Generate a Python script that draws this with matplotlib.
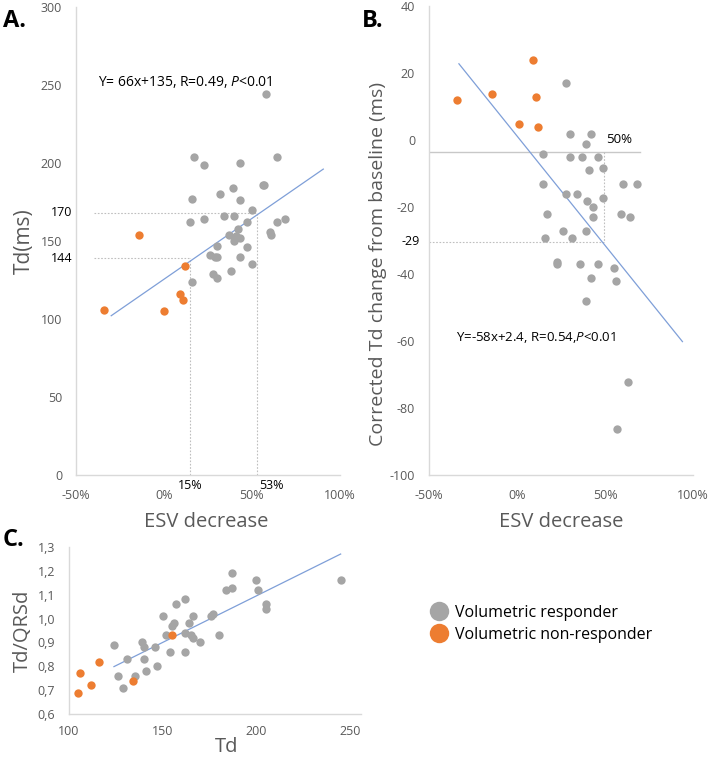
#!/usr/bin/env python3
"""Td vs ESV decrease scatter panels (A, B, C) in an Excel-like style."""

import numpy as np
import matplotlib

matplotlib.use("Agg")
import matplotlib.pyplot as plt
from matplotlib.lines import Line2D
from matplotlib.ticker import FuncFormatter

plt.rcParams["font.family"] = ["Open Sans", "DejaVu Sans"]
plt.rcParams["mathtext.fontset"] = "custom"
plt.rcParams["mathtext.it"] = "Open Sans:italic"
plt.rcParams["mathtext.rm"] = "Open Sans"
plt.rcParams["axes.unicode_minus"] = False

# ---- panel A: ESV decrease vs Td(ms)
a_resp_x = [0.17, 0.23, 0.43, 0.64, 0.56, 0.57, 0.39, 0.32, 0.43, 0.16, 0.50, 0.15,
            0.23, 0.34, 0.40, 0.47, 0.64, 0.69, 0.60, 0.61, 0.37, 0.42, 0.41, 0.43,
            0.40, 0.30, 0.47, 0.26, 0.29, 0.30, 0.43, 0.50, 0.28, 0.30, 0.38, 0.16, 0.58]
a_resp_y = [204, 199, 200, 204, 186, 186, 184, 180, 176, 177, 170, 162,
            164, 166, 166, 162, 162, 164, 156, 154, 154, 158, 153, 152,
            150, 147, 146, 141, 140, 140, 140, 135, 129, 126, 131, 124, 244]
a_non_x = [-0.14, 0.12, 0.09, 0.11, -0.34, 0.00]
a_non_y = [154, 134, 116, 112, 106, 105]
a_fit = (78.0, 125.5)          # slope, intercept of the drawn line
a_fit_range = (-0.30, 0.905)
a_guides_x = [0.15, 0.53]
a_guides_y = [139, 168]
a_guide_labels_y = ["144", "170"]
a_guide_labels_x = ["15%", "53%"]
a_eq = "Y= 66x+135, R=0.49, $P$<0.01"

# ---- panel B: ESV decrease vs corrected Td change
b_resp_x = [0.28, 0.30, 0.42, 0.39, 0.15, 0.30, 0.37, 0.46, 0.49, 0.41, 0.15, 0.60,
            0.68, 0.28, 0.34, 0.49, 0.40, 0.43, 0.17, 0.59, 0.64, 0.43, 0.26, 0.39,
            0.16, 0.31, 0.23, 0.23, 0.36, 0.46, 0.55, 0.42, 0.56, 0.39, 0.63, 0.57]
b_resp_y = [16.9, 1.9, 1.9, -1.1, -4.3, -5.2, -5.2, -5.2, -8.3, -9.1, -13.2, -13.2,
            -13.2, -16.2, -16.2, -17.2, -18.2, -20.1, -22.2, -22.2, -23.1, -23.1, -27.3, -27.3,
            -29.2, -29.2, -36.3, -37.1, -37.1, -37.1, -38.2, -41.1, -42.1, -48.2, -72.2, -86.3]
b_non_x = [-0.34, -0.14, 0.09, 0.11, 0.01, 0.12]
b_non_y = [11.9, 13.7, 23.8, 12.8, 4.8, 3.9]
b_fit = (-65.3, 1.2)
b_fit_range = (-0.33, 0.94)
b_ref_y = -3.6
b_ref_xmax = 0.70
b_guide_x = 0.494
b_guide_y = -30.4
b_eq = "Y=-58x+2.4, R=0.54,$P$<0.01"

# ---- panel C: Td vs Td/QRSd
c_resp_x = [124, 126, 129, 131, 135, 139, 140, 140, 141, 146, 147, 150, 152, 154, 155,
            156, 157, 162, 162, 162, 164, 165, 166, 166, 170, 176, 177, 180, 184, 187,
            187, 200, 201, 205, 205, 245]
c_resp_y = [0.89, 0.76, 0.71, 0.83, 0.76, 0.90, 0.88, 0.83, 0.78, 0.88, 0.80, 1.01, 0.93,
            0.86, 0.97, 0.98, 1.06, 1.08, 0.94, 0.86, 0.98, 0.93, 1.01, 0.92, 0.90, 1.01,
            1.02, 0.93, 1.12, 1.19, 1.13, 1.16, 1.12, 1.06, 1.04, 1.16]
c_non_x = [105, 106, 112, 116, 134, 155]
c_non_y = [0.69, 0.77, 0.72, 0.82, 0.74, 0.93]
c_fit = (0.0039, 0.315)
c_fit_range = (124, 245)

legend_labels = ["Volumetric responder", "Volumetric non-responder"]

GRAY = "#a5a5a5"
ORANGE = "#ed7d31"
LINE = "#7f9fd8"
SPINE = "#d9d9d9"
TICK = "#595959"
GUIDE = "#bfbfbf"
W, H = 709, 760


def rect(x0, y0, x1, y1):
    """Pixel box (top-left origin) -> figure fraction rect."""
    return [x0 / W, 1 - y1 / H, (x1 - x0) / W, (y1 - y0) / H]


def style(ax):
    for side in ("top", "right"):
        ax.spines[side].set_visible(False)
    for side in ("left", "bottom"):
        ax.spines[side].set_color(SPINE)
        ax.spines[side].set_linewidth(1.0)
    ax.tick_params(length=0, labelsize=9, labelcolor=TICK, pad=10)


def pct(v, _):
    return f"{v * 100:.0f}%"


def scatter(ax, rx, ry, nx, ny):
    ax.scatter(rx, ry, s=36, color=GRAY, linewidths=0, zorder=3, clip_on=False)
    ax.scatter(nx, ny, s=36, color=ORANGE, linewidths=0, zorder=3, clip_on=False)


def fit_line(ax, fit, rng):
    xs = np.array(rng)
    ax.plot(xs, fit[0] * xs + fit[1], color=LINE, lw=0.9, zorder=2)


def main() -> None:
    fig = plt.figure(figsize=(W / 100, H / 100), dpi=100)

    # ---------- A
    ax = fig.add_axes(rect(76, 7, 340, 475))
    style(ax)
    ax.set_xlim(-0.5, 1.0)
    ax.set_ylim(0, 300)
    ax.set_xticks([-0.5, 0, 0.5, 1.0])
    ax.xaxis.set_major_formatter(FuncFormatter(pct))
    ax.set_yticks(range(0, 301, 50))
    scatter(ax, a_resp_x, a_resp_y, a_non_x, a_non_y)
    fit_line(ax, a_fit, a_fit_range)
    for gx, gy in zip(a_guides_x, a_guides_y):
        ax.plot([-0.40, gx], [gy, gy], color=GUIDE, lw=0.8, ls=(0, (1.5, 1.5)), zorder=1)
        ax.plot([gx, gx], [0, gy], color=GUIDE, lw=0.8, ls=(0, (1.5, 1.5)), zorder=1)
    for gy, lab in zip(a_guides_y, a_guide_labels_y):
        ax.text(-0.52, gy, lab, ha="right", va="center", fontsize=9, color="black")
    for gx, lab, dx in zip(a_guides_x, a_guide_labels_x, [0.0, 0.08]):
        ax.text(gx + dx, -2.5, lab, ha="center", va="top", fontsize=9, color="black")
    ax.text(-0.377, 252, a_eq, fontsize=10, color="black", va="center")
    ax.set_ylabel("Td(ms)", fontsize=15, color=TICK)
    ax.yaxis.set_label_coords(-0.155, 0.5)
    ax.set_xlabel("ESV decrease", fontsize=14.5, color=TICK)
    ax.xaxis.set_label_coords(0.495, -0.078)

    # ---------- B
    ax = fig.add_axes(rect(429, 6, 693, 475))
    style(ax)
    ax.set_xlim(-0.5, 1.0)
    ax.set_ylim(-100, 40)
    ax.set_xticks([-0.5, 0, 0.5, 1.0])
    ax.xaxis.set_major_formatter(FuncFormatter(pct))
    ax.set_yticks(range(-100, 41, 20))
    ax.plot([-0.5, b_ref_xmax], [b_ref_y, b_ref_y], color="#c8c8c8", lw=1.0, zorder=1)
    ax.plot([-0.5, b_guide_x], [b_guide_y, b_guide_y], color=GUIDE, lw=0.8,
            ls=(0, (1.5, 1.5)), zorder=1)
    ax.plot([b_guide_x, b_guide_x], [b_ref_y, b_guide_y], color=GUIDE, lw=0.8,
            ls=(0, (1.5, 1.5)), zorder=1)
    scatter(ax, b_resp_x, b_resp_y, b_non_x, b_non_y)
    fit_line(ax, b_fit, b_fit_range)
    ax.text(-0.55, b_guide_y, "-29", ha="right", va="center", fontsize=9, color="black")
    ax.text(b_guide_x + 0.01, b_ref_y + 3.8, "50%", ha="left", va="center",
            fontsize=9.5, color="black")
    ax.text(-0.345, -59, b_eq, fontsize=9.5, color="black", va="center")
    ax.set_ylabel("Corrected Td change from baseline (ms)", fontsize=14, color=TICK)
    ax.yaxis.set_label_coords(-0.159, 0.45)
    ax.set_xlabel("ESV decrease", fontsize=14.5, color=TICK)
    ax.xaxis.set_label_coords(0.5, -0.078)

    # ---------- C
    ax = fig.add_axes(rect(69, 547, 350, 714))
    style(ax)
    ax.spines["bottom"].set_bounds(100, 256)
    ax.set_xlim(100, 250)
    ax.set_ylim(0.6, 1.3)
    ax.set_xticks([100, 150, 200, 250])
    ax.set_yticks(np.arange(0.6, 1.31, 0.1))
    ax.yaxis.set_major_formatter(FuncFormatter(lambda v, _: f"{v:.1f}".replace(".", ",")))
    ax.tick_params(axis="x", pad=8)
    ax.tick_params(axis="y", pad=10)
    scatter(ax, c_resp_x, c_resp_y, c_non_x, c_non_y)
    fit_line(ax, c_fit, c_fit_range)
    ax.set_ylabel("Td/QRSd", fontsize=14.5, color=TICK)
    ax.yaxis.set_label_coords(-0.128, 0.5)
    ax.set_xlabel("Td", fontsize=14.5, color=TICK)
    ax.xaxis.set_label_coords(0.56, -0.14)

    # ---------- panel letters
    for x, y, s in [(3, 27, "A."), (362, 27, "B."), (3, 546, "C.")]:
        fig.text(x / W, 1 - y / H, s, fontsize=17, fontweight="bold", va="baseline")

    # ---------- legend
    handles = [Line2D([], [], ls="", marker="o", ms=14, color=c, mec="none")
               for c in (GRAY, ORANGE)]
    fig.legend(handles, legend_labels, loc="upper left",
               bbox_to_anchor=(420 / W, 1 - 597 / H), frameon=False,
               fontsize=11.5, handletextpad=0.3, labelspacing=0.35,
               borderpad=0, handlelength=1.4)

    fig.savefig("out.png", dpi=100)
    plt.close(fig)


if __name__ == "__main__":
    main()
